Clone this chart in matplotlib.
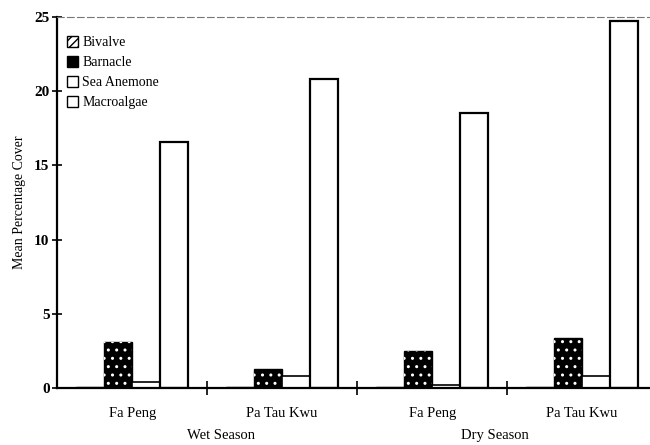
import numpy as np
import matplotlib.pyplot as plt
from matplotlib.patches import Patch

plt.rcParams['font.family'] = ['Liberation Serif', 'DejaVu Serif']

# -------------------------
# Data
# -------------------------
sites = ["Fa Peng", "Pa Tau Kwu", "Fa Peng", "Pa Tau Kwu"]
seasons = ["Wet Season", "Dry Season"]
bivalve = [0.05, 0.05, 0.05, 0.1]
barnacle = [3.1, 1.3, 2.5, 3.4]
sea_anemone = [0.4, 0.8, 0.2, 0.8]
macroalgae = [16.6, 20.8, 18.5, 24.7]
yticks = [0, 5, 10, 15, 20, 25]

fig = plt.figure(figsize=(6.5, 4.45), dpi=100)
ax = fig.add_axes([0.088, 0.128, 0.923, 0.834])

x = np.arange(len(sites)) + 0.5
w = 0.187
offs = [-1.5 * w, -0.5 * w, 0.5 * w, 1.5 * w]

ax.bar(x + offs[0], bivalve, w, color="white", edgecolor="black", hatch="////", lw=1)
# barnacle: black with white dots
ax.bar(x + offs[1], barnacle, w, color="black", edgecolor="black", lw=1)
ax.bar(x + offs[1], barnacle, w, color="none", edgecolor="white", hatch="..", lw=0)
ax.bar(x + offs[2], sea_anemone, w, color="white", edgecolor="black", lw=1.2)
ax.bar(x + offs[3], macroalgae, w, color="white", edgecolor="black", lw=1.6)

ax.set_xlim(0, 4)
ax.set_ylim(0, 25)
ax.set_yticks(yticks)
ax.tick_params(axis="y", direction="inout", length=7, width=1.2, labelsize=11, pad=2)
for lab in ax.get_yticklabels():
    lab.set_fontweight("bold")

ax.set_xticks(x)
ax.set_xticklabels(sites, fontsize=10.5)
ax.tick_params(axis="x", which="major", length=0, pad=14)
ax.set_xticks([1, 2, 3], minor=True)
ax.tick_params(axis="x", which="minor", direction="inout", length=10, width=1.2)

ax.spines["left"].set_linewidth(1.6)
ax.spines["bottom"].set_linewidth(1.6)
ax.spines["right"].set_visible(False)
ax.spines["top"].set_linestyle((0, (6, 3)))
ax.spines["top"].set_color("#777777")
ax.spines["top"].set_linewidth(0.8)

ax.set_ylabel("Mean Percentage Cover", fontsize=10, labelpad=6)

ax.text(1.09, -0.129, seasons[0], transform=ax.get_xaxis_transform(),
        ha="center", va="center", fontsize=10.5)
ax.text(2.92, -0.129, seasons[1], transform=ax.get_xaxis_transform(),
        ha="center", va="center", fontsize=10.5)

handles = [
    Patch(facecolor="white", edgecolor="black", hatch="////", label="Bivalve"),
    Patch(facecolor="black", edgecolor="black", label="Barnacle"),
    Patch(facecolor="white", edgecolor="black", label="Sea Anemone"),
    Patch(facecolor="white", edgecolor="black", label="Macroalgae"),
]
ax.legend(handles=handles, loc="upper left", bbox_to_anchor=(0.0, 0.975),
          frameon=False, fontsize=10, handlelength=0.8, handleheight=0.8,
          handletextpad=0.3, labelspacing=0.5, borderaxespad=0.3)

fig.savefig("out.png", dpi=100)
